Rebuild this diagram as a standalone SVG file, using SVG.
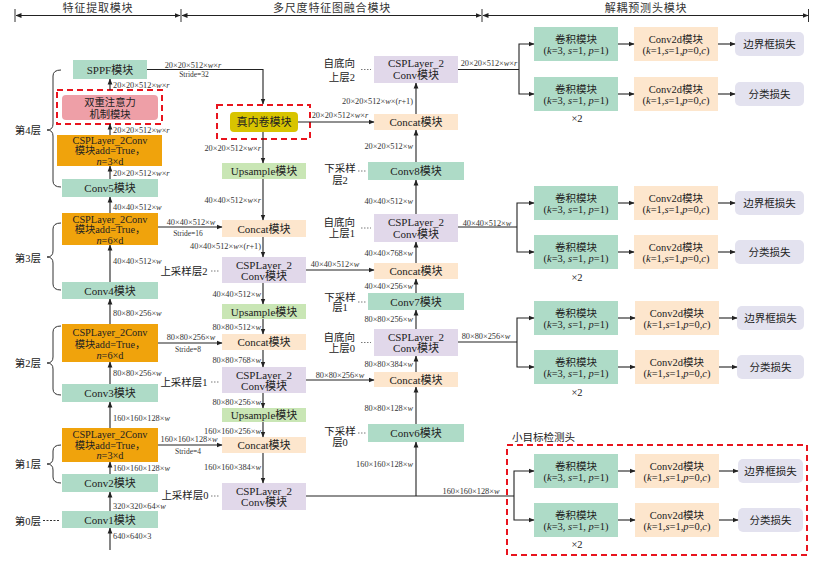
<svg xmlns="http://www.w3.org/2000/svg" width="814" height="561" viewBox="0 0 814 561">
<defs>
<marker id="ah" markerWidth="6" markerHeight="6" refX="5.5" refY="3" orient="auto-start-reverse" markerUnits="userSpaceOnUse"><path d="M0,0.6 L6,3 L0,5.4 z" fill="#222"/></marker>
</defs>
<style>
text{font-family:"Liberation Serif","Noto Sans CJK SC",serif;fill:#222}
.t{font-size:11px;text-anchor:middle}
.t2{font-size:10.3px;text-anchor:middle}
.h{font-size:11px;text-anchor:middle;letter-spacing:0.8px;fill:#333}
.s{font-size:10.5px;text-anchor:middle}
.se{font-size:10.5px;text-anchor:end}
.lb{font-size:8.3px;fill:#333}
.lbe{font-size:8.3px;text-anchor:end;fill:#333}
.lbm{font-size:8.3px;text-anchor:middle;fill:#333}
.st{font-size:7.5px;text-anchor:middle;fill:#333}
.i{font-style:italic}
.teal{fill:#aedbc7}
.orange{fill:#f0a30c}
.pink{fill:#ee9fa7}
.yellow{fill:#d8c400}
.purple{fill:#e1d8ea}
.peach{fill:#fde6cd}
.green{fill:#c9e6b5}
.loss{fill:#e3e2ef}
.red{fill:none;stroke:#e8141e;stroke-width:2;stroke-dasharray:6 4}
.ln{stroke:#222;stroke-width:1.1;fill:none}
.ar{marker-end:url(#ah)}
.dot{stroke:#555;stroke-width:0.8;stroke-dasharray:1.5 1.5;fill:none}
.br{stroke:#333;stroke-width:1;fill:none}
</style>
<rect width="814" height="561" fill="#ffffff"/>

<!-- header -->
<g id="header">
<g class="br">
<line x1="15" y1="9" x2="15" y2="22"/>
<line x1="181" y1="9" x2="181" y2="22"/>
<line x1="482" y1="9" x2="482" y2="22"/>
<line x1="808.5" y1="9" x2="808.5" y2="22"/>
</g>
<path class="ln" d="M16,15.5 H180" marker-start="url(#ah)" marker-end="url(#ah)"/>
<path class="ln" d="M182,15.5 H481" marker-start="url(#ah)" marker-end="url(#ah)"/>
<path class="ln" d="M483,15.5 H808" marker-start="url(#ah)" marker-end="url(#ah)"/>
<text class="h" x="98" y="11.5">特征提取模块</text>
<text class="h" x="332" y="11.5">多尺度特征图融合模块</text>
<text class="h" x="646" y="11.5">解耦预测头模块</text>
</g>

<!-- layer braces -->
<g id="layers">
<path class="br" d="M61,70 Q53,70 53,76 V124 Q53,130 47,130 Q53,130 53,136 V181 Q53,187 61,187"/>
<text class="se" x="41" y="134">第4层</text>
<path class="br" d="M61,223 Q53,223 53,229 V251 Q53,257 47,257 Q53,257 53,263 V284 Q53,290 61,290"/>
<text class="se" x="41" y="261.5">第3层</text>
<path class="br" d="M61,326 Q53,326 53,332 V357 Q53,363 47,363 Q53,363 53,369 V389 Q53,395 61,395"/>
<text class="se" x="41" y="367">第2层</text>
<path class="br" d="M61,445 Q53,445 53,451 V458 Q53,464 47,464 Q53,464 53,470 V477 Q53,483 61,483"/>
<text class="se" x="41" y="468">第1层</text>
<text class="se" x="41" y="524.5">第0层</text>
<line class="br" x1="43" y1="520.5" x2="60" y2="520.5" stroke-dasharray="2 1.5"/>
</g>

<!-- backbone nodes -->
<g id="sppf"><rect class="teal" x="73" y="60" width="74" height="19"/><text class="t" x="110" y="73.5">SPPF模块</text></g>
<g id="attention"><rect class="red" x="57" y="90" width="105" height="34"/><rect class="pink" x="62" y="95" width="96" height="25" rx="4"/><text class="t2" x="110" y="106">双重注意力</text><text class="t2" x="110" y="117.5">机制模块</text></g>
<g id="csp4"><rect class="orange" x="57" y="135" width="105" height="31"/><text class="t2" x="110" y="143.5">CSPLayer_2Conv</text><text class="t2" x="110" y="154">模块add=True，</text><text class="t2" x="110" y="164.5"><tspan class="i">n</tspan>=3×d</text></g>
<g id="conv5"><rect class="teal" x="62" y="179" width="96" height="18"/><text class="t" x="110" y="192">Conv5模块</text></g>
<g id="csp3"><rect class="orange" x="62" y="213" width="96" height="32"/><text class="t2" x="110" y="222.5">CSPLayer_2Conv</text><text class="t2" x="110" y="233">模块add=True，</text><text class="t2" x="110" y="243.5"><tspan class="i">n</tspan>=6×d</text></g>
<g id="conv4"><rect class="teal" x="62" y="282" width="96" height="17"/><text class="t" x="110" y="294.5">Conv4模块</text></g>
<g id="csp2"><rect class="orange" x="62" y="324" width="96" height="38"/><text class="t2" x="110" y="336">CSPLayer_2Conv</text><text class="t2" x="110" y="347.5">模块add=True，</text><text class="t2" x="110" y="358.5"><tspan class="i">n</tspan>=6×d</text></g>
<g id="conv3"><rect class="teal" x="62" y="384" width="96" height="18"/><text class="t" x="110" y="397">Conv3模块</text></g>
<g id="csp1"><rect class="orange" x="62" y="428" width="96" height="34"/><text class="t2" x="110" y="437.5">CSPLayer_2Conv</text><text class="t2" x="110" y="448.5">模块add=True，</text><text class="t2" x="110" y="459"><tspan class="i">n</tspan>=3×d</text></g>
<g id="conv2"><rect class="teal" x="62" y="474" width="96" height="18"/><text class="t" x="110" y="487">Conv2模块</text></g>
<g id="conv1"><rect class="teal" x="62" y="511" width="96" height="17"/><text class="t" x="110" y="523.5">Conv1模块</text></g>

<!-- neck top-down nodes -->
<g id="involution"><rect class="red" x="217" y="105" width="93" height="34"/><rect class="yellow" x="230" y="112" width="68" height="20" rx="4"/><text class="t" x="264" y="126">真内卷模块</text></g>
<g id="upsample1"><rect class="green" x="222" y="163" width="84" height="16"/><text class="t" x="264" y="175">Upsample模块</text></g>
<g id="concat1"><rect class="peach" x="222" y="220" width="84" height="17"/><text class="t" x="264" y="232.5">Concat模块</text></g>
<g id="csp_up2"><rect class="purple" x="222" y="257" width="84" height="26"/><text class="t" x="264" y="268.5">CSPLayer_2</text><text class="t" x="264" y="280">Conv模块</text></g>
<g id="upsample2"><rect class="green" x="222" y="304" width="84" height="15"/><text class="t" x="264" y="315.5">Upsample模块</text></g>
<g id="concat2"><rect class="peach" x="222" y="334" width="84" height="16"/><text class="t" x="264" y="346">Concat模块</text></g>
<g id="csp_up1"><rect class="purple" x="222" y="367" width="84" height="26"/><text class="t" x="264" y="378.5">CSPLayer_2</text><text class="t" x="264" y="390">Conv模块</text></g>
<g id="upsample3"><rect class="green" x="222" y="408" width="84" height="14"/><text class="t" x="264" y="419">Upsample模块</text></g>
<g id="concat3"><rect class="peach" x="222" y="437" width="84" height="16"/><text class="t" x="264" y="449">Concat模块</text></g>
<g id="csp_up0"><rect class="purple" x="222" y="483" width="84" height="27"/><text class="t" x="264" y="494.5">CSPLayer_2</text><text class="t" x="264" y="506">Conv模块</text></g>

<g id="up_labels">
<text class="s" x="184" y="274.5">上采样层2</text><line class="dot" x1="211" y1="271" x2="220" y2="271"/>
<text class="s" x="184" y="386">上采样层1</text><line class="dot" x1="211" y1="382" x2="220" y2="382"/>
<text class="s" x="185" y="498.5">上采样层0</text><line class="dot" x1="211" y1="496" x2="220" y2="496"/>
</g>

<!-- neck bottom-up nodes -->
<g id="csp_pan2"><rect class="purple" x="374" y="56" width="84" height="27"/><text class="t" x="416" y="67">CSPLayer_2</text><text class="t" x="416" y="79">Conv模块</text>
<text class="se" x="355" y="67">自底向</text><text class="se" x="355" y="81">上层2</text><line class="dot" x1="361" y1="69.5" x2="371" y2="69.5"/></g>
<g id="concat_pan2"><rect class="peach" x="374" y="114" width="84" height="16"/><text class="t" x="416" y="126">Concat模块</text></g>
<g id="conv8"><rect class="teal" x="368" y="162" width="96" height="18"/><text class="t" x="416" y="175">Conv8模块</text>
<text class="s" x="340" y="172">下采样</text><text class="s" x="340" y="184">层2</text><line class="dot" x1="358" y1="171" x2="367" y2="171"/></g>
<g id="csp_pan1"><rect class="purple" x="374" y="214" width="84" height="28"/><text class="t" x="416" y="225.5">CSPLayer_2</text><text class="t" x="416" y="237.5">Conv模块</text>
<text class="se" x="355" y="225.5">自底向</text><text class="se" x="355" y="237">上层1</text><line class="dot" x1="361" y1="228" x2="371" y2="228"/></g>
<g id="concat_pan1"><rect class="peach" x="374" y="263" width="84" height="16"/><text class="t" x="416" y="275">Concat模块</text></g>
<g id="conv7"><rect class="teal" x="368" y="293" width="96" height="17"/><text class="t" x="416" y="305.5">Conv7模块</text>
<text class="s" x="340" y="300.5">下采样</text><text class="s" x="340" y="311">层1</text><line class="dot" x1="358" y1="302" x2="367" y2="302"/></g>
<g id="csp_pan0"><rect class="purple" x="374" y="329" width="84" height="27"/><text class="t" x="416" y="340.5">CSPLayer_2</text><text class="t" x="416" y="352">Conv模块</text>
<text class="se" x="355" y="340.5">自底向</text><text class="se" x="355" y="351.5">上层0</text><line class="dot" x1="361" y1="342.5" x2="371" y2="342.5"/></g>
<g id="concat_pan0"><rect class="peach" x="374" y="372" width="84" height="15"/><text class="t" x="416" y="383.5">Concat模块</text></g>
<g id="conv6"><rect class="teal" x="368" y="424" width="96" height="18"/><text class="t" x="416" y="437">Conv6模块</text>
<text class="s" x="340" y="435">下采样</text><text class="s" x="340" y="445.5">层0</text><line class="dot" x1="358" y1="433" x2="367" y2="433"/></g>

<!-- heads -->
<g id="head_a">
<rect class="teal" x="534" y="27" width="84" height="34"/><text class="s" x="576" y="42.5">卷积模块</text><text class="s" x="576" y="53.5">(<tspan class="i">k</tspan>=3, <tspan class="i">s</tspan>=1, <tspan class="i">p</tspan>=1)</text>
<rect class="peach" x="634" y="27" width="84" height="34"/><text class="s" x="676" y="42.5">Conv2d模块</text><text class="s" x="676" y="53.5">(<tspan class="i">k</tspan>=1,<tspan class="i">s</tspan>=1,<tspan class="i">p</tspan>=0,<tspan class="i">c</tspan>)</text>
<rect class="loss" x="735" y="32" width="69" height="24" rx="5"/><text class="s" x="769.5" y="48">边界框损失</text>
<rect class="teal" x="534" y="77" width="84" height="34"/><text class="s" x="576" y="92.5">卷积模块</text><text class="s" x="576" y="103.5">(<tspan class="i">k</tspan>=3, <tspan class="i">s</tspan>=1, <tspan class="i">p</tspan>=1)</text>
<rect class="peach" x="634" y="77" width="84" height="34"/><text class="s" x="676" y="92.5">Conv2d模块</text><text class="s" x="676" y="103.5">(<tspan class="i">k</tspan>=1,<tspan class="i">s</tspan>=1,<tspan class="i">p</tspan>=0,<tspan class="i">c</tspan>)</text>
<rect class="loss" x="735" y="82" width="69" height="24" rx="5"/><text class="s" x="769.5" y="98">分类损失</text>
<text class="s" x="577" y="122">×2</text>
</g>
<g id="head_b">
<rect class="teal" x="534" y="186" width="84" height="34"/><text class="s" x="576" y="201.5">卷积模块</text><text class="s" x="576" y="212.5">(<tspan class="i">k</tspan>=3, <tspan class="i">s</tspan>=1, <tspan class="i">p</tspan>=1)</text>
<rect class="peach" x="634" y="186" width="84" height="34"/><text class="s" x="676" y="201.5">Conv2d模块</text><text class="s" x="676" y="212.5">(<tspan class="i">k</tspan>=1,<tspan class="i">s</tspan>=1,<tspan class="i">p</tspan>=0,<tspan class="i">c</tspan>)</text>
<rect class="loss" x="735" y="191" width="69" height="24" rx="5"/><text class="s" x="769.5" y="207">边界框损失</text>
<rect class="teal" x="534" y="235" width="84" height="34"/><text class="s" x="576" y="250.5">卷积模块</text><text class="s" x="576" y="261.5">(<tspan class="i">k</tspan>=3, <tspan class="i">s</tspan>=1, <tspan class="i">p</tspan>=1)</text>
<rect class="peach" x="634" y="235" width="84" height="34"/><text class="s" x="676" y="250.5">Conv2d模块</text><text class="s" x="676" y="261.5">(<tspan class="i">k</tspan>=1,<tspan class="i">s</tspan>=1,<tspan class="i">p</tspan>=0,<tspan class="i">c</tspan>)</text>
<rect class="loss" x="735" y="240" width="69" height="24" rx="5"/><text class="s" x="769.5" y="256">分类损失</text>
<text class="s" x="577" y="281">×2</text>
</g>
<g id="head_c">
<rect class="teal" x="534" y="301" width="84" height="34"/><text class="s" x="576" y="316.5">卷积模块</text><text class="s" x="576" y="327.5">(<tspan class="i">k</tspan>=3, <tspan class="i">s</tspan>=1, <tspan class="i">p</tspan>=1)</text>
<rect class="peach" x="635" y="301" width="84" height="34"/><text class="s" x="677" y="316.5">Conv2d模块</text><text class="s" x="677" y="327.5">(<tspan class="i">k</tspan>=1,<tspan class="i">s</tspan>=1,<tspan class="i">p</tspan>=0,<tspan class="i">c</tspan>)</text>
<rect class="loss" x="737" y="306" width="67" height="24" rx="5"/><text class="s" x="770.5" y="322">边界框损失</text>
<rect class="teal" x="534" y="350" width="84" height="34"/><text class="s" x="576" y="365.5">卷积模块</text><text class="s" x="576" y="376.5">(<tspan class="i">k</tspan>=3, <tspan class="i">s</tspan>=1, <tspan class="i">p</tspan>=1)</text>
<rect class="peach" x="635" y="350" width="84" height="34"/><text class="s" x="677" y="365.5">Conv2d模块</text><text class="s" x="677" y="376.5">(<tspan class="i">k</tspan>=1,<tspan class="i">s</tspan>=1,<tspan class="i">p</tspan>=0,<tspan class="i">c</tspan>)</text>
<rect class="loss" x="737" y="355" width="67" height="24" rx="5"/><text class="s" x="770.5" y="371">分类损失</text>
<text class="s" x="577" y="396">×2</text>
</g>
<g id="head_d">
<text class="s" x="512" y="441" style="text-anchor:start">小目标检测头</text>
<rect class="red" x="507" y="445" width="300" height="110"/>
<rect class="teal" x="534" y="454" width="84" height="34"/><text class="s" x="576" y="469.5">卷积模块</text><text class="s" x="576" y="480.5">(<tspan class="i">k</tspan>=3, <tspan class="i">s</tspan>=1, <tspan class="i">p</tspan>=1)</text>
<rect class="peach" x="635" y="454" width="84" height="34"/><text class="s" x="677" y="469.5">Conv2d模块</text><text class="s" x="677" y="480.5">(<tspan class="i">k</tspan>=1,<tspan class="i">s</tspan>=1,<tspan class="i">p</tspan>=0,<tspan class="i">c</tspan>)</text>
<rect class="loss" x="738" y="459" width="65" height="24" rx="5"/><text class="s" x="770.5" y="475">边界框损失</text>
<rect class="teal" x="534" y="503" width="84" height="34"/><text class="s" x="576" y="518.5">卷积模块</text><text class="s" x="576" y="529.5">(<tspan class="i">k</tspan>=3, <tspan class="i">s</tspan>=1, <tspan class="i">p</tspan>=1)</text>
<rect class="peach" x="635" y="503" width="84" height="34"/><text class="s" x="677" y="518.5">Conv2d模块</text><text class="s" x="677" y="529.5">(<tspan class="i">k</tspan>=1,<tspan class="i">s</tspan>=1,<tspan class="i">p</tspan>=0,<tspan class="i">c</tspan>)</text>
<rect class="loss" x="738" y="508" width="65" height="24" rx="5"/><text class="s" x="770.5" y="524">分类损失</text>
<text class="s" x="577" y="548">×2</text>
</g>

<!-- connectors -->
<g id="connectors">
<g class="ln">
<path class="ar" d="M110,550 V528"/>
<path class="ar" d="M110,511 V492"/>
<path class="ar" d="M110,474 V462"/>
<path class="ar" d="M110,428 V402"/>
<path class="ar" d="M110,384 V362"/>
<path class="ar" d="M110,324 V299"/>
<path class="ar" d="M110,282 V245"/>
<path class="ar" d="M110,213 V197"/>
<path class="ar" d="M110,179 V166"/>
<path class="ar" d="M110,135 V124"/>
<path class="ar" d="M110,90 V79"/>
<path class="ar" d="M147,69.5 H263 V104"/>
<path class="ar" d="M263,132 V163"/>
<path class="ar" d="M263,179 V220"/>
<path class="ar" d="M263,237 V257"/>
<path class="ar" d="M263,283 V304"/>
<path class="ar" d="M263,319 V334"/>
<path class="ar" d="M263,350 V367"/>
<path class="ar" d="M263,393 V408"/>
<path class="ar" d="M263,422 V437"/>
<path class="ar" d="M263,453 V483"/>
<path class="ar" d="M158,227 H222"/>
<path class="ar" d="M158,343 H222"/>
<path class="ar" d="M158,445 H222"/>
<path class="ar" d="M298,122 H374"/>
<path class="ar" d="M306,270 H374"/>
<path class="ar" d="M306,380 H374"/>
<path d="M306,496 H514"/>
<path class="ar" d="M416,496 V442"/>
<path class="ar" d="M416,424 V387"/>
<path class="ar" d="M416,372 V356"/>
<path class="ar" d="M416,329 V310"/>
<path class="ar" d="M416,293 V279"/>
<path class="ar" d="M416,263 V242"/>
<path class="ar" d="M416,214 V180"/>
<path class="ar" d="M416,162 V130"/>
<path class="ar" d="M416,114 V83"/>
<path d="M458,69.5 H519"/>
<path class="ar" d="M534,44 H519 V94 H534" marker-start="url(#ah)"/>
<path d="M458,227 H517"/>
<path class="ar" d="M534,203 H517 V252 H534" marker-start="url(#ah)"/>
<path d="M458,342 H517"/>
<path class="ar" d="M534,318 H517 V367 H534" marker-start="url(#ah)"/>
<path class="ar" d="M534,471 H514 V520 H534" marker-start="url(#ah)"/>
<path class="ar" d="M618,44 H634"/><path class="ar" d="M718,44 H735"/>
<path class="ar" d="M618,94 H634"/><path class="ar" d="M718,94 H735"/>
<path class="ar" d="M618,203 H634"/><path class="ar" d="M718,203 H735"/>
<path class="ar" d="M618,252 H634"/><path class="ar" d="M718,252 H735"/>
<path class="ar" d="M618,318 H635"/><path class="ar" d="M719,318 H737"/>
<path class="ar" d="M618,367 H635"/><path class="ar" d="M719,367 H737"/>
<path class="ar" d="M618,471 H635"/><path class="ar" d="M719,471 H738"/>
<path class="ar" d="M618,520 H635"/><path class="ar" d="M719,520 H738"/>
</g>

<text class="lb" x="113" y="539">640×640×3</text>
<text class="lb" x="113" y="508.5">320×320×64×<tspan class="i">w</tspan></text>
<text class="lb" x="113" y="471">160×160×128×<tspan class="i">w</tspan></text>
<text class="lb" x="113" y="421">160×160×128×<tspan class="i">w</tspan></text>
<text class="lb" x="113" y="375.5">80×80×256×<tspan class="i">w</tspan></text>
<text class="lb" x="113" y="316">80×80×256×<tspan class="i">w</tspan></text>
<text class="lb" x="113" y="264">40×40×512×<tspan class="i">w</tspan></text>
<text class="lb" x="113" y="210">40×40×512×<tspan class="i">w</tspan></text>
<text class="lb" x="113" y="176">20×20×512×<tspan class="i">w</tspan>×<tspan class="i">r</tspan></text>
<text class="lb" x="113" y="133">20×20×512×<tspan class="i">w</tspan>×<tspan class="i">r</tspan></text>
<text class="lb" x="113" y="88">20×20×512×<tspan class="i">w</tspan>×<tspan class="i">r</tspan></text>
<text class="lbm" x="193" y="67.5">20×20×512×<tspan class="i">w</tspan>×<tspan class="i">r</tspan></text>
<text class="st" x="194" y="77">Stride=32</text>
<text class="lbm" x="191" y="224.5">40×40×512×<tspan class="i">w</tspan></text>
<text class="st" x="188" y="236">Stride=16</text>
<text class="lbm" x="191" y="339.5">80×80×256×<tspan class="i">w</tspan></text>
<text class="st" x="188" y="351.5">Stride=8</text>
<text class="lbm" x="189" y="442">160×160×128×<tspan class="i">w</tspan></text>
<text class="st" x="188" y="454">Stride=4</text>
<text class="lbe" x="261" y="151">20×20×512×<tspan class="i">w</tspan>×<tspan class="i">r</tspan></text>
<text class="lbe" x="261" y="203">40×40×512×<tspan class="i">w</tspan>×<tspan class="i">r</tspan></text>
<text class="lbe" x="261" y="249">40×40×512×<tspan class="i">w</tspan>×(<tspan class="i">r</tspan>+1)</text>
<text class="lbe" x="261" y="297">40×40×512×<tspan class="i">w</tspan></text>
<text class="lbe" x="261" y="330">80×80×512×<tspan class="i">w</tspan></text>
<text class="lbe" x="261" y="362.5">80×80×768×<tspan class="i">w</tspan></text>
<text class="lbe" x="261" y="404.5">80×80×256×<tspan class="i">w</tspan></text>
<text class="lbe" x="261" y="434">160×160×256×<tspan class="i">w</tspan></text>
<text class="lbe" x="261" y="470">160×160×384×<tspan class="i">w</tspan></text>
<text class="lbm" x="340" y="118">20×20×512×<tspan class="i">w</tspan>×<tspan class="i">r</tspan></text>
<text class="lbm" x="335" y="267">40×40×512×<tspan class="i">w</tspan></text>
<text class="lbm" x="340" y="378">80×80×256×<tspan class="i">w</tspan></text>
<text class="lbm" x="471" y="494">160×160×128×<tspan class="i">w</tspan></text>
<text class="lbe" x="413" y="467">160×160×128×<tspan class="i">w</tspan></text>
<text class="lbe" x="413" y="411">80×80×128×<tspan class="i">w</tspan></text>
<text class="lbe" x="413" y="367">80×80×384×<tspan class="i">w</tspan></text>
<text class="lbe" x="413" y="322">80×80×256×<tspan class="i">w</tspan></text>
<text class="lbe" x="413" y="289">40×40×256×<tspan class="i">w</tspan></text>
<text class="lbe" x="413" y="256">40×40×768×<tspan class="i">w</tspan></text>
<text class="lbe" x="413" y="204">40×40×512×<tspan class="i">w</tspan></text>
<text class="lbe" x="413" y="149">20×20×512×<tspan class="i">w</tspan></text>
<text class="lbe" x="413" y="104">20×20×512×<tspan class="i">w</tspan>×(<tspan class="i">r</tspan>+1)</text>
<text class="lbm" x="489" y="66">20×20×512×<tspan class="i">w</tspan>×<tspan class="i">r</tspan></text>
<text class="lbm" x="487" y="225.5">40×40×512×<tspan class="i">w</tspan></text>
<text class="lbm" x="486" y="339">80×80×256×<tspan class="i">w</tspan></text>
</g>
</svg>
